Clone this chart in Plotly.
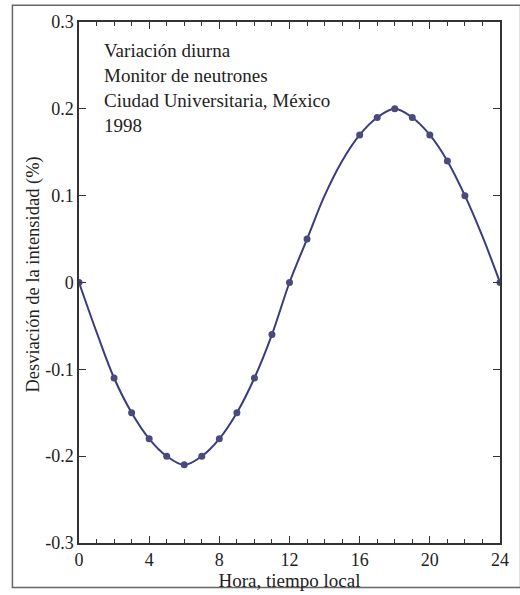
import plotly.graph_objects as go

# Observed data (markers)
hours = [0, 2, 3, 4, 5, 6, 7, 8, 9, 10, 11, 12, 13, 16, 17, 18, 19, 20, 21, 22, 24]
dev = [0.0, -0.11, -0.15, -0.18, -0.20, -0.21, -0.20, -0.18, -0.15, -0.11, -0.06,
       0.0, 0.05, 0.17, 0.19, 0.20, 0.19, 0.17, 0.14, 0.10, 0.0]

# Fitted curve
curve_hours = list(range(0, 25))
curve_dev = [0.0, -0.057, -0.11, -0.15, -0.18, -0.20, -0.21, -0.20, -0.18, -0.15, -0.11,
             -0.06, 0.0, 0.05, 0.10, 0.14, 0.17, 0.19, 0.20, 0.19, 0.17, 0.14, 0.10, 0.053, 0.0]

x_ticks = [0, 4, 8, 12, 16, 20, 24]
y_ticks = [-0.3, -0.2, -0.1, 0, 0.1, 0.2, 0.3]
y_ticktext = ["-0.3", "-0.2", "-0.1", "0", "0.1", "0.2", "0.3"]

info_lines = ["Variación diurna", "Monitor de neutrones", "Ciudad Universitaria, México", "1998"]
x_title = "Hora, tiempo local"
y_title = "Desviación de la intensidad (%)"

FONT = "Liberation Serif"
INK = "#222222"
LINE_C = "#3b3b82"
MARK_C = "#4a4a7c"

fig = go.Figure()
fig.add_trace(go.Scatter(x=curve_hours, y=curve_dev, mode="lines",
                         line=dict(color=LINE_C, width=2, shape="spline", smoothing=1.0),
                         hoverinfo="skip", showlegend=False))
fig.add_trace(go.Scatter(x=hours, y=dev, mode="markers",
                         marker=dict(color=MARK_C, size=7, symbol="circle"),
                         showlegend=False))

W, H = 520, 595
L, R, T, B = 79, 11, 22, 47
pw, ph = W - L - R, H - T - B

def px_x(px):
    return (px - L) / pw

def px_y(py):
    return 1 - (py - T) / ph

# info text lines
line_centers = [51, 76.5, 101.5, 126]
for txt, cy in zip(info_lines, line_centers):
    fig.add_annotation(text=txt, x=px_x(102), y=px_y(cy), xref="paper", yref="paper",
                       xanchor="left", yanchor="middle", showarrow=False,
                       font=dict(family=FONT, size=19, color=INK))

# y-axis title placed as rotated annotation
fig.add_annotation(text=y_title, x=px_x(33), y=px_y(277), xref="paper", yref="paper",
                   xanchor="center", yanchor="middle", textangle=-90, showarrow=False,
                   font=dict(family=FONT, size=18.5, color=INK))

# outer frame of the figure
fig.add_shape(type="rect", xref="paper", yref="paper",
              x0=px_x(11), x1=px_x(530), y0=px_y(593), y1=px_y(5),
              line=dict(color="#666666", width=1.5), fillcolor="rgba(0,0,0,0)", layer="below")

axis_common = dict(showgrid=False, zeroline=False, showline=True, linecolor="#333333",
                   linewidth=1.5, mirror="ticks", ticks="inside", tickcolor="#333333",
                   tickfont=dict(family=FONT, size=18, color=INK))

fig.update_layout(
    width=W, height=H,
    margin=dict(l=L, r=R, t=T, b=B, pad=0),
    paper_bgcolor="white", plot_bgcolor="white",
    font=dict(family=FONT, color=INK),
    xaxis=dict(range=[0, 24], tickvals=x_ticks, ticklen=7, tickwidth=1.3,
               minor=dict(dtick=1, ticks="inside", ticklen=4, tickcolor="#333333", tickwidth=1.2),
               title=dict(text=x_title, font=dict(family=FONT, size=19, color=INK),
                          standoff=0),
               **axis_common),
    yaxis=dict(range=[-0.3, 0.3], tickvals=y_ticks, ticktext=y_ticktext, ticklen=7, tickwidth=1.3,
               **axis_common),
)

fig.write_html("out.html")
